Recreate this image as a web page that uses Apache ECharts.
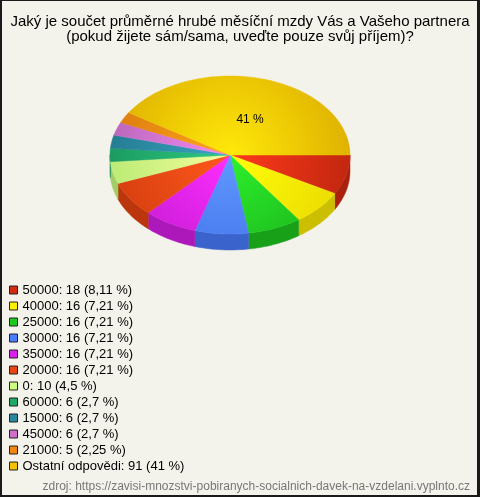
<!DOCTYPE html>
<html>
<head>
<meta charset="utf-8">
<script src="https://cdn.jsdelivr.net/npm/echarts@6/dist/echarts.min.js"></script>
<style>
  html, body { margin: 0; padding: 0; background: #f4f3eb; }
  #chart { position: absolute; left: 0; top: 0; width: 480px; height: 497px; }
  .frame {
    position: absolute; left: 0; top: 0; width: 480px; height: 497px;
    box-sizing: border-box; border-style: solid; border-color: #1a1a1a;
    border-width: 1px 3px 2px 2px; pointer-events: none;
  }
</style>
</head>
<body>
<div id="chart"></div>
<div class="frame"></div>
<script>
// data
var categories = ['50000', '40000', '25000', '30000', '35000', '20000', '0', '60000', '15000', '45000', '21000', 'Ostatní odpovědi'];
var counts = [18, 16, 16, 16, 16, 16, 10, 6, 6, 6, 5, 91];
var colors = ['#d42a10', '#ffee00', '#1ec81e', '#4a7cff', '#d81ee8', '#ea4410', '#ccff80', '#1ea868', '#2888a0', '#cc70cc', '#f08810', '#f4c200'];

var total = counts.reduce(function (a, b) { return a + b; }, 0);
var starts = [];
var acc = 0;
counts.forEach(function (v) { starts.push(acc / total * Math.PI * 2); acc += v; });

// percentages with 3 significant digits, czech decimal comma
function pct(v) {
  return String(Number((v / total * 100).toPrecision(3))).replace('.', ',');
}

function rgb(hex) {
  return [1, 3, 5].map(function (k) { return parseInt(hex.substr(k, 2), 16); });
}
function darker(hex, f) {
  var c = rgb(hex).map(function (x) { return Math.round(x * f); });
  return 'rgb(' + c.join(',') + ')';
}
function lighter(hex, f) {
  var c = rgb(hex).map(function (x) { return Math.min(255, Math.round(x * (1 + f) + 10)); });
  return 'rgb(' + c.join(',') + ')';
}

// ellipse geometry of the pie
var CX = 230, CY = 155, RX = 120, RY = 79, DEPTH = 16;

function arcPts(a0, a1, dy) {
  var n = Math.max(2, Math.ceil((a1 - a0) / 0.02));
  var pts = [];
  for (var i = 0; i <= n; i++) {
    var a = a0 + (a1 - a0) * i / n;
    pts.push([CX + RX * Math.cos(a), CY + dy + RY * Math.sin(a)]);
  }
  return pts;
}

function renderSide(params, api) {
  var i = params.dataIndex;
  var a0 = starts[i];
  var a1 = a0 + api.value(0) / total * Math.PI * 2;
  var s = Math.max(a0, 0), e = Math.min(a1, Math.PI);
  if (e <= s) return { type: 'group', children: [] };
  var pts = arcPts(s, e, 0).concat(arcPts(s, e, DEPTH).reverse());
  var c = darker(colors[i], 0.8);
  return {
    type: 'polygon',
    shape: { points: pts },
    style: { fill: c, stroke: c, lineWidth: 0.5 }
  };
}

function renderTop(params, api) {
  var i = params.dataIndex;
  var v = api.value(0);
  var a0 = starts[i];
  var a1 = a0 + v / total * Math.PI * 2;
  var pts = [[CX, CY]].concat(arcPts(a0, a1, 0));
  var fill = {
    type: 'radial', x: CX, y: CY, r: RX, global: true,
    colorStops: [
      { offset: 0, color: lighter(colors[i], 0.15) },
      { offset: 1, color: darker(colors[i], 0.92) }
    ]
  };
  var children = [{
    type: 'polygon',
    shape: { points: pts },
    style: { fill: fill, stroke: fill, lineWidth: 0.5 }
  }];
  if (v / total >= 0.1) {
    var m = (a0 + a1) / 2;
    children.push({
      type: 'text',
      x: CX + RX * 0.6 * Math.cos(m),
      y: CY + RY * 0.46 * Math.sin(m),
      style: {
        text: pct(v) + ' %', fill: '#000', fontSize: 12,
        fontFamily: 'Liberation Sans', align: 'center', verticalAlign: 'middle'
      }
    });
  }
  return { type: 'group', children: children };
}

var chart = echarts.init(document.getElementById('chart'));
chart.setOption({
  animation: false,
  backgroundColor: '#f4f3eb',
  title: [
    {
      text: 'Jaký je součet průměrné hrubé měsíční mzdy Vás a Vašeho partnera\n(pokud žijete sám/sama, uveďte pouze svůj příjem)?',
      left: 'center',
      top: 9,
      textStyle: { fontSize: 15, fontWeight: 'normal', color: '#000', fontFamily: 'Liberation Sans', lineHeight: 15 }
    },
    {
      text: 'zdroj: https://zavisi-mnozstvi-pobiranych-socialnich-davek-na-vzdelani.vyplnto.cz',
      right: 5,
      top: 476,
      textStyle: { fontSize: 12, fontWeight: 'normal', color: '#777', fontFamily: 'Liberation Sans' }
    }
  ],
  legend: {
    orient: 'vertical',
    left: 9,
    top: 282,
    padding: 0,
    icon: 'rect',
    itemWidth: 8,
    itemHeight: 8,
    itemGap: 0,
    selectedMode: false,
    data: categories,
    itemStyle: { borderColor: '#222', borderWidth: 1 },
    textStyle: { fontSize: 13, color: '#000', fontFamily: 'Liberation Sans', lineHeight: 16 },
    formatter: function (name) {
      var i = categories.indexOf(name);
      return name + ': ' + counts[i] + ' (' + pct(counts[i]) + ' %)';
    }
  },
  series: [
    {
      // only feeds the legend
      type: 'pie',
      silent: true,
      center: [CX, CY],
      radius: [0, 0],
      label: { show: false },
      labelLine: { show: false },
      data: categories.map(function (c, i) {
        return { name: c, value: counts[i], itemStyle: { color: colors[i] } };
      })
    },
    {
      type: 'custom',
      coordinateSystem: 'none',
      z: 1,
      silent: true,
      renderItem: renderSide,
      data: counts
    },
    {
      type: 'custom',
      coordinateSystem: 'none',
      z: 2,
      silent: true,
      renderItem: renderTop,
      data: counts
    }
  ]
});
</script>
</body>
</html>
